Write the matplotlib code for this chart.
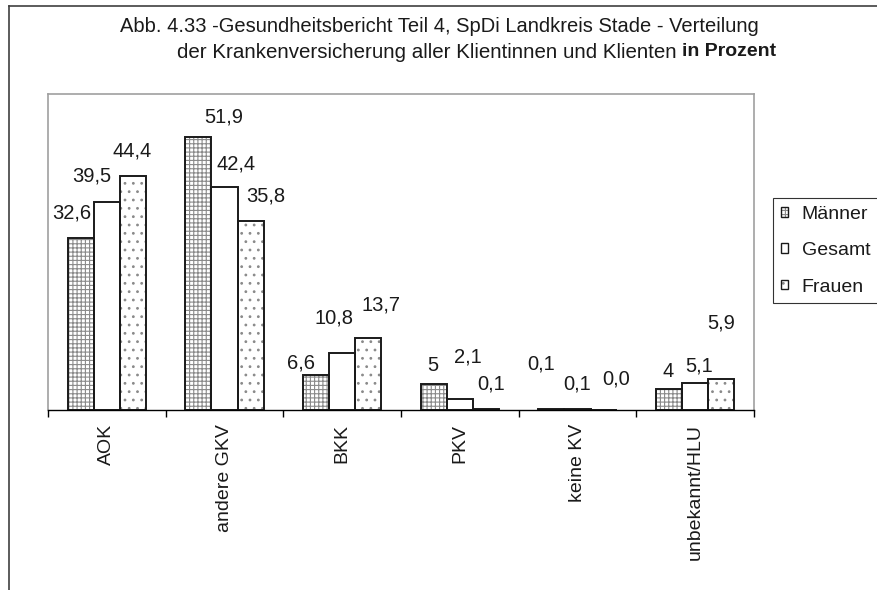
import matplotlib
matplotlib.use("Agg")
import matplotlib.pyplot as plt
import numpy as np
from matplotlib.patches import Patch
from matplotlib.lines import Line2D

# ---- data ----
categories = ["AOK", "andere GKV", "BKK", "PKV", "keine KV", "unbekannt/HLU"]
series_names = ["Männer", "Gesamt", "Frauen"]
maenner = [32.6, 51.9, 6.6, 5.0, 0.1, 4.0]
gesamt = [39.5, 42.4, 10.8, 2.1, 0.1, 5.1]
frauen = [44.4, 35.8, 13.7, 0.1, 0.0, 5.9]
maenner_labels = ["32,6", "51,9", "6,6", "5", "0,1", "4"]
gesamt_labels = ["39,5", "42,4", "10,8", "2,1", "0,1", "5,1"]
frauen_labels = ["44,4", "35,8", "13,7", "0,1", "0,0", "5,9"]

# label placement offsets (pixels: dx, dy above bar top) - style only
maenner_off = [(-9, 25), (25, 20), (-15, 12), (-1, 18), (-10, 45), (-1, 17)]
gesamt_off = [(-15, 26), (12, 23), (-8, 35), (8, 42), (0, 25), (4, 17)]
frauen_off = [(-1, 25), (15, 25), (13, 33), (5, 25), (13, 31), (0, 56)]

plt.rcParams['font.family'] = ['Liberation Sans', 'DejaVu Sans']
plt.rcParams['hatch.linewidth'] = 0.8

W, H = 877, 590
fig = plt.figure(figsize=(W / 100, H / 100), dpi=100)

# plot area in pixels
L, R, T, B = 48, 754, 94, 410
ax = fig.add_axes([L / W, 1 - B / H, (R - L) / W, (B - T) / H])

x = np.arange(len(categories)) + 0.5
bw = 0.221
edge = "#1a1a1a"
hatch_col = "#8a8a8a"

series = [
    (maenner, maenner_labels, maenner_off, "++++", -bw),
    (gesamt, gesamt_labels, gesamt_off, None, 0.0),
    (frauen, frauen_labels, frauen_off, "..", bw),
]

handles = []
for (vals, labs, offs, hatch, dx), name in zip(series, series_names):
    if hatch:
        ax.bar(x + dx, vals, bw, color="white", edgecolor=hatch_col, hatch=hatch,
               linewidth=0, zorder=2)
    ax.bar(x + dx, vals, bw, fill=False, edgecolor=edge, linewidth=1.4, zorder=2.2)
    for xi, v, lab, (ox, oy) in zip(x + dx, vals, labs, offs):
        ax.annotate(lab, (xi, v), xytext=(ox, oy), textcoords="offset pixels",
                    ha="center", va="center", fontsize=14.5, color="#1a1a1a",
                    annotation_clip=False)
    p_fill = Patch(facecolor="white", edgecolor=hatch_col if hatch else "white",
                   hatch=hatch, linewidth=0)
    p_edge = Patch(fill=False, edgecolor=edge, linewidth=1.0)
    handles.append((p_fill, p_edge))

ax.set_xlim(0, len(categories))
ax.set_ylim(0, 60)
ax.set_yticks([])

ax.set_xticks(np.arange(len(categories) + 1))
ax.set_xticklabels([])
ax.tick_params(axis="x", which="major", direction="out", length=5, width=1,
               color="black")
ax.set_xticks(x, minor=True)
ax.set_xticklabels(categories, minor=True, rotation=90, fontsize=14,
                   color="#1a1a1a")
ax.tick_params(axis="x", which="minor", length=0, pad=10)

for s in ["left", "top", "right"]:
    ax.spines[s].set_color("#a0a0a0")
    ax.spines[s].set_linewidth(1.2)
ax.spines["bottom"].set_color("black")
ax.spines["bottom"].set_linewidth(1.0)
ax.spines["bottom"].set_zorder(3)

# title
fig.text(439 / W, 1 - 26 / H,
         "Abb. 4.33 -Gesundheitsbericht Teil 4, SpDi Landkreis Stade - Verteilung",
         ha="center", va="center", fontsize=14.5, color="#1a1a1a")
fig.text(677 / W, 1 - 52 / H,
         "der Krankenversicherung aller Klientinnen und Klienten",
         ha="right", va="center", fontsize=14.8, color="#1a1a1a")
fig.text(682 / W, 1 - 52 / H, "in Prozent",
         ha="left", va="center", fontsize=14, fontweight="bold", color="#1a1a1a")

# legend (extends past the right edge like the reference)
leg = fig.legend(handles, series_names, loc="upper left",
                 bbox_to_anchor=(773 / W, 1 - 198 / H, 120 / W, 0),
                 mode="expand", borderaxespad=0,
                 fontsize=14, frameon=True, fancybox=False, borderpad=0.4,
                 labelspacing=1.0, handlelength=0.38, handleheight=0.38,
                 handletextpad=0.7)
leg.get_frame().set_edgecolor("black")
leg.get_frame().set_linewidth(0.8)
for t in leg.get_texts():
    t.set_color("#1a1a1a")

# outer border (left and top)
fig.add_artist(Line2D([8.7 / W, 8.7 / W], [0, 1 - 6 / H], transform=fig.transFigure,
                      color="#404040", linewidth=1.2))
fig.add_artist(Line2D([8.7 / W, 1], [1 - 6 / H, 1 - 6 / H], transform=fig.transFigure,
                      color="#404040", linewidth=1.2))

fig.savefig("out.png", dpi=100)
